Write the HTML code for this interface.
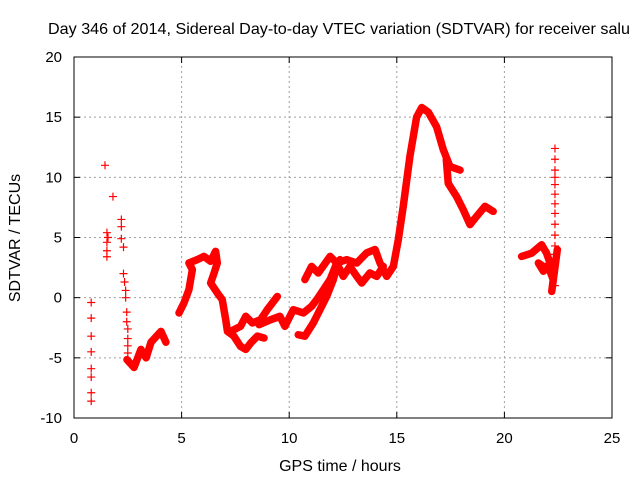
<!DOCTYPE html>
<html><head><meta charset="utf-8"><style>
html,body{margin:0;padding:0;background:#fff;}
svg{display:block;font-family:"Liberation Sans",sans-serif;}
</style></head><body>
<svg id="chart" width="640" height="480" viewBox="0 0 640 480">
<rect width="640" height="480" fill="#fff"/>
<text x="48" y="34" font-size="16" fill="#000" textLength="582" lengthAdjust="spacingAndGlyphs">Day 346 of 2014, Sidereal Day-to-day VTEC variation (SDTVAR) for receiver salu</text>
<text x="340" y="471" font-size="16" text-anchor="middle">GPS time / hours</text>
<text transform="translate(20,238) rotate(-90)" font-size="16" text-anchor="middle">SDTVAR / TECUs</text>
<g id="grid"></g><g id="ticks"></g><g id="series"></g>
<rect x="74" y="57" width="538" height="361" fill="none" stroke="#000" stroke-width="1"/>
</svg>
<script>
const xTicks=[0,5,10,15,20,25];
const yTicks=[-10,-5,0,5,10,15,20];
const lineA=[[2.46,-5.15],[2.79,-5.8],[3.11,-4.3],[3.35,-5.0],[3.58,-3.7],[4.04,-2.8],[4.27,-3.7]];
const lineB=[[4.88,-1.27],[5.11,-0.44],[5.34,0.66],[5.5,2.33],[5.34,2.88],[5.73,3.16],[6.04,3.43],[6.35,3.02],[6.58,3.85],[6.66,2.88],[6.51,2.05],[6.35,1.22],[6.66,0.39],[6.89,-0.17],[7.05,-1.83],[7.13,-2.8],[7.43,-3.2],[7.74,-4.05],[7.98,-4.3],[8.21,-3.77],[8.52,-3.2],[8.83,-3.35]];
const lineC=[[7.28,-2.8],[7.74,-2.38],[7.98,-1.55],[8.29,-2.1],[8.67,-1.83],[8.98,-1.0],[9.45,0.1]];
const lineD=[[8.6,-2.24],[9.14,-1.83],[9.57,-1.55],[9.8,-2.38],[10.19,-1.0],[10.66,-1.27],[11.04,-0.72],[11.28,-0.17],[11.59,0.66],[11.9,1.5],[12.21,2.88],[12.67,3.16],[13.14,2.88],[13.6,3.72],[13.99,4.0],[14.22,2.88],[14.53,1.77],[14.84,2.6],[15.07,4.82],[15.3,7.59],[15.61,11.75],[15.92,15.0],[16.16,15.8],[16.47,15.4],[16.85,14.2],[17.16,12.3],[17.47,10.9],[17.94,10.6]];
const lineE=[[17.3,11.5],[17.39,9.5],[17.78,8.4],[18.09,7.3],[18.4,6.07],[18.71,6.76],[19.1,7.59],[19.48,7.17]];
const lineF=[[10.42,-3.08],[10.73,-3.2],[11.12,-2.1],[11.43,-1.0],[11.74,0.1],[12.05,1.5],[12.21,2.6],[12.36,3.16]];
const lineG=[[10.73,1.5],[11.04,2.6],[11.35,2.05],[11.9,3.43],[12.21,2.88],[12.51,1.77],[12.82,2.6],[13.14,1.77],[13.37,1.22],[13.75,2.05],[14.07,1.77],[14.37,2.6]];
const lineH=[[20.8,3.43],[21.27,3.7],[21.73,4.4],[21.96,3.7],[22.12,2.88],[21.81,2.2],[21.58,2.88],[22.12,2.2],[22.27,1.5],[22.2,0.52],[22.46,4.0]];
const markX=[0.8,0.8,0.8,0.8,0.8,0.8,0.8,0.8,1.44,1.81,1.53,1.53,1.53,1.53,1.58,2.2,2.2,2.2,2.3,2.3,2.35,2.4,2.4,2.45,2.45,2.5,2.5,2.5,2.5,22.35,22.35,22.35,22.35,22.35,22.35,22.35,22.35,22.35,22.35,22.35,22.35,22.35];
const markY=[-0.4,-1.7,-3.2,-4.5,-5.9,-6.6,-7.9,-8.6,11.0,8.4,5.4,4.6,3.9,3.4,5.0,6.5,5.9,4.9,4.2,2.0,1.3,0.6,0.0,-1.2,-2.0,-2.6,-3.4,-4.0,-4.6,12.4,11.5,10.6,10.0,9.4,8.6,7.8,7.0,6.1,5.2,4.3,3.6,1.0];
const NS='http://www.w3.org/2000/svg';
const X0=74,X1=612,Y0=418,Y1=57;
function sx(h){return X0+(h-0)/(25-0)*(X1-X0);}
function sy(v){return Y0-(v+10)/(30)*(Y0-Y1);}
function mk(tag,attrs,parent){const e=document.createElementNS(NS,tag);for(const k in attrs)e.setAttribute(k,attrs[k]);parent.appendChild(e);return e;}
const grid=document.getElementById('grid'),ticks=document.getElementById('ticks'),ser=document.getElementById('series');
xTicks.forEach(t=>{const x=sx(t);
 if(t>0&&t<25){const g=mk('line',{x1:x,x2:x,y1:Y0,y2:Y1,stroke:'#a0a0a0','stroke-dasharray':'2,3'},grid);
 
 }
 mk('line',{x1:x,x2:x,y1:Y0,y2:Y0-6,stroke:'#000'},ticks);
 mk('line',{x1:x,x2:x,y1:Y1,y2:Y1+6,stroke:'#000'},ticks);
 const l=mk('text',{x:x,y:443,'font-size':'15','text-anchor':'middle'},ticks);l.textContent=t;
 
 });
yTicks.forEach(t=>{const y=sy(t);
 if(t>-10&&t<20){const g=mk('line',{x1:X0,x2:X1,y1:y,y2:y,stroke:'#a0a0a0','stroke-dasharray':'2,3'},grid);
 
 }
 mk('line',{x1:X0,x2:X0+6,y1:y,y2:y,stroke:'#000'},ticks);
 mk('line',{x1:X1,x2:X1-6,y1:y,y2:y,stroke:'#000'},ticks);
 const l=mk('text',{x:62,y:y+5,'font-size':'15','text-anchor':'end'},ticks);l.textContent=t;
 
 });
[lineA,lineB,lineC,lineD,lineE,lineF,lineG,lineH].forEach((arr,i)=>{
 const p=mk('polyline',{points:arr.map(d=>sx(d[0])+','+sy(d[1])).join(' '),fill:'none',stroke:'#ff0000','stroke-width':'7.5','stroke-linejoin':'round','stroke-linecap':'round'},ser);
 
 });
markX.forEach((h,i)=>{const x=sx(h),y=sy(markY[i]);
 const m=mk('path',{d:`M${x-4},${y}H${x+4}M${x},${y-4}V${y+4}`,stroke:'#ff0000','stroke-width':'1.2'},ser);
 
 });
</script>
</body></html>
